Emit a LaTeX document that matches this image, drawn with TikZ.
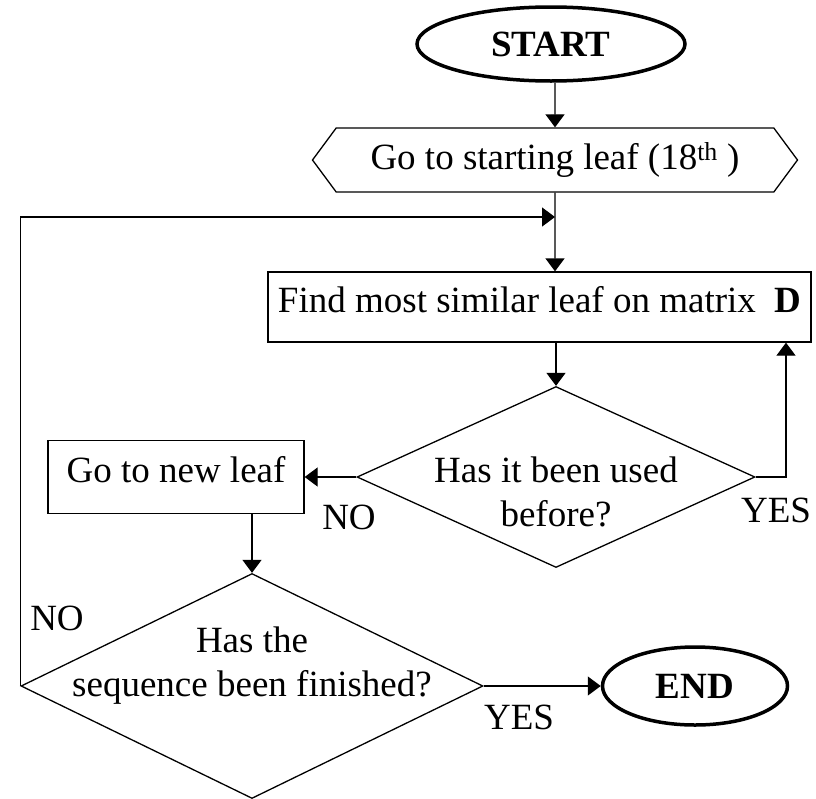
\documentclass[tikz,border=0pt]{standalone}
\usepackage{fontspec}
\setmainfont{Liberation Serif}
\usetikzlibrary{shapes.geometric,shapes.symbols,arrows.meta}

\begin{document}
\begin{tikzpicture}[x=1pt,y=-1pt,
  every node/.style={font=\fontsize{37}{44}\selectfont},
  line width=1.3pt,
  >={Triangle[length=13pt,width=19pt]},
  term/.style={draw,ellipse,line width=3.5pt,inner sep=0pt,font=\fontsize{37}{44}\selectfont\bfseries},
  box/.style={draw,rectangle,inner sep=0pt,text depth=15pt},
  decision/.style={draw,diamond,inner sep=0pt}]
%\draw [help lines,black!20!white] (0,0) grid (816,798);
\useasboundingbox (0,0) rectangle (816,798);

\node[term,minimum width=268pt,minimum height=74pt] (start) at (551,44) {START};

\node[draw,signal,signal to=west and east,signal pointer angle=107,inner sep=0pt,
  minimum width=485pt,minimum height=64pt] (leaf18) at (555,160) {Go to starting leaf (18\textsuperscript{th} )};

\node[box,minimum width=543pt,minimum height=70pt] (findD) at (539.5,307) {Find most similar leaf on matrix\ \ \textbf{D}};

\node[decision,minimum width=398pt,minimum height=181pt,
  label={[align=center,yshift=-15pt]center:Has it been used\\before?}] (used) at (556,477) {};

\node[box,minimum width=256pt,minimum height=73pt] (newleaf) at (176,477) {Go to new leaf};

\node[decision,minimum width=462pt,minimum height=225pt,
  label={[align=center,yshift=20pt]center:Has the\\sequence been finished?}] (finished) at (252,686) {};

\node[term,minimum width=185pt,minimum height=78pt] (theend) at (695,686) {END};

% branch labels
\node (no1) at (349,517) {NO};
\node (yes1) at (776,510) {YES};
\node (no2) at (57,618) {NO};
\node (yes2) at (519,717) {YES};

\coordinate (loop) at (555,217);
\coordinate (back) at (786,477);

\draw[->] (leaf18.north |- start.south) -- (leaf18);
\draw[->] (leaf18) -- (leaf18 |- findD.north);
\draw[->] (used.north |- findD.south) -- (used);
\draw[->] (used.west) -- (newleaf.east);
\draw[->] (used.east) -- (back) -- (back |- findD.south);
\draw[->] (finished.north |- newleaf.south) -- (finished);
\draw[->] (finished.east) -- (theend);
\draw[->] (finished.west) -- (finished.west |- loop) -- (loop);

\end{tikzpicture}
\end{document}
